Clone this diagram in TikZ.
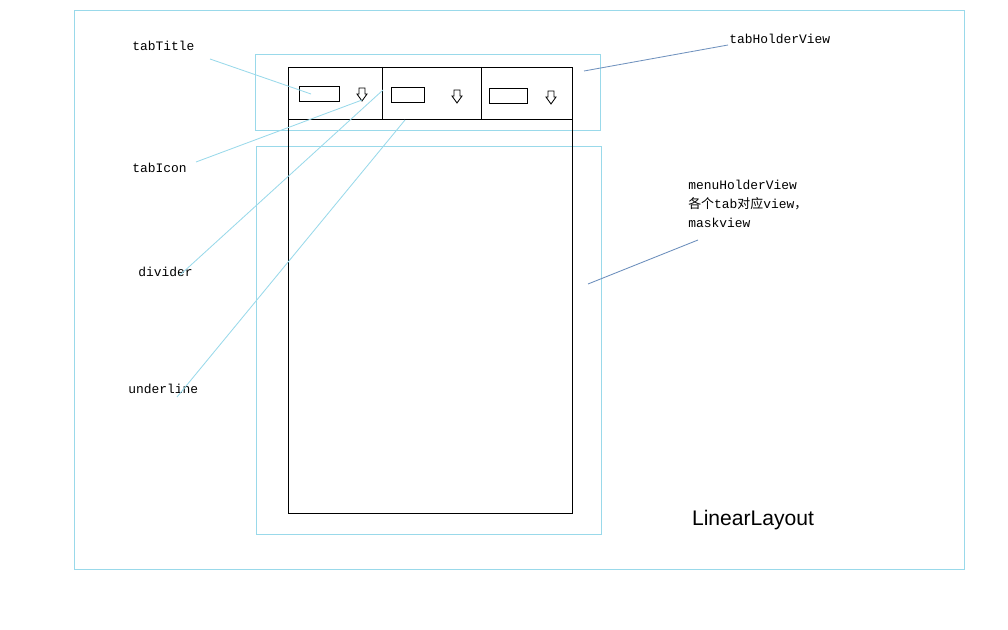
\documentclass[tikz,border=0pt]{standalone}
\usepackage{fontspec}
\setmainfont{Liberation Mono}
\newfontfamily\cjk{Noto Sans CJK SC}
\newfontfamily\sans{Liberation Sans}
\usepackage{xcolor}
\usepackage{tikz}
\definecolor{paleBlue}{RGB}{153,217,234}
\definecolor{slateBlue}{RGB}{112,146,190}

\begin{document}
\begin{tikzpicture}[x=0.025cm,y=-0.025cm,
    frame/.style={draw=paleBlue,line width=0.7pt},
    box/.style={draw=black,line width=0.7pt},
    lbl/.style={font=\fontsize{9.2}{13.5}\selectfont,inner sep=0pt,anchor=west},
    pointer/.style={paleBlue,line width=0.6pt},
    leader/.style={slateBlue,line width=0.6pt}]
  \useasboundingbox (0,0) rectangle (1008,630);

  % LinearLayout and the two holders
  \draw[frame] (74,10) rectangle (964,569);
  \draw[frame] (255,54) rectangle (600,130);
  \draw[frame] (256,146) rectangle (601,534);

  % screen with tab bar
  \draw[box] (288,67) rectangle (572,513);
  \draw[box] (288,119) -- (572,119);
  \draw[box] (382,67) -- (382,119);
  \draw[box] (481,67) -- (481,119);

  % tab titles and icons
  \foreach \x/\y/\w/\ix/\iy in {299/86/40/362/88, 391/87/33/457/90, 489/88/38/551/91} {
    \draw[box] (\x,\y) rectangle ++(\w,15);
    \draw[box,line width=0.6pt] (\ix-3,\iy) -- (\ix+3,\iy) -- (\ix+3,\iy+6)
      -- (\ix+5,\iy+6) -- (\ix,\iy+13) -- (\ix-5,\iy+6) -- (\ix-3,\iy+6) -- cycle;
  }

  % targets
  \coordinate (titleMid) at (311,94);
  \coordinate (iconTip) at (362,100);
  \coordinate (dividerTop) at (383,90);
  \coordinate (underlineMid) at (405,120);
  \coordinate (tabHolderEdge) at (584,71);
  \coordinate (menuHolderEdge) at (588,284);

  % labels
  \node[lbl] (tabTitle) at (132,46) {tabTitle};
  \node[lbl] (tabIcon) at (132,168) {tabIcon};
  \node[lbl] (divider) at (138,272) {divider};
  \node[lbl] (underline) at (128,389) {underline};
  \node[lbl] (tabHolderView) at (729,39) {tabHolderView};
  \node[lbl,anchor=north west,align=left] (menuHolderView) at (688,180)
    {menuHolderView\\{\cjk 各个}tab{\cjk 对应}view{\cjk ，}\\maskview};
  \node[font=\sans\fontsize{15}{18}\selectfont] (linearLayout) at (753,520) {LinearLayout};

  \coordinate (tabTitleFoot) at (210,59);
  \coordinate (tabIconFoot) at (196,162);
  \coordinate (dividerFoot) at (180,275);
  \coordinate (underlineFoot) at (177,397);
  \coordinate (tabHolderFoot) at (728,45);
  \coordinate (menuHolderFoot) at (698,240);

  % connectors
  \draw[pointer] (tabTitleFoot) -- (titleMid);
  \draw[pointer] (tabIconFoot) -- (iconTip);
  \draw[pointer] (dividerFoot) -- (dividerTop);
  \draw[pointer] (underlineFoot) -- (underlineMid);
  \draw[leader] (tabHolderFoot) -- (tabHolderEdge);
  \draw[leader] (menuHolderFoot) -- (menuHolderEdge);
\end{tikzpicture}
\end{document}
